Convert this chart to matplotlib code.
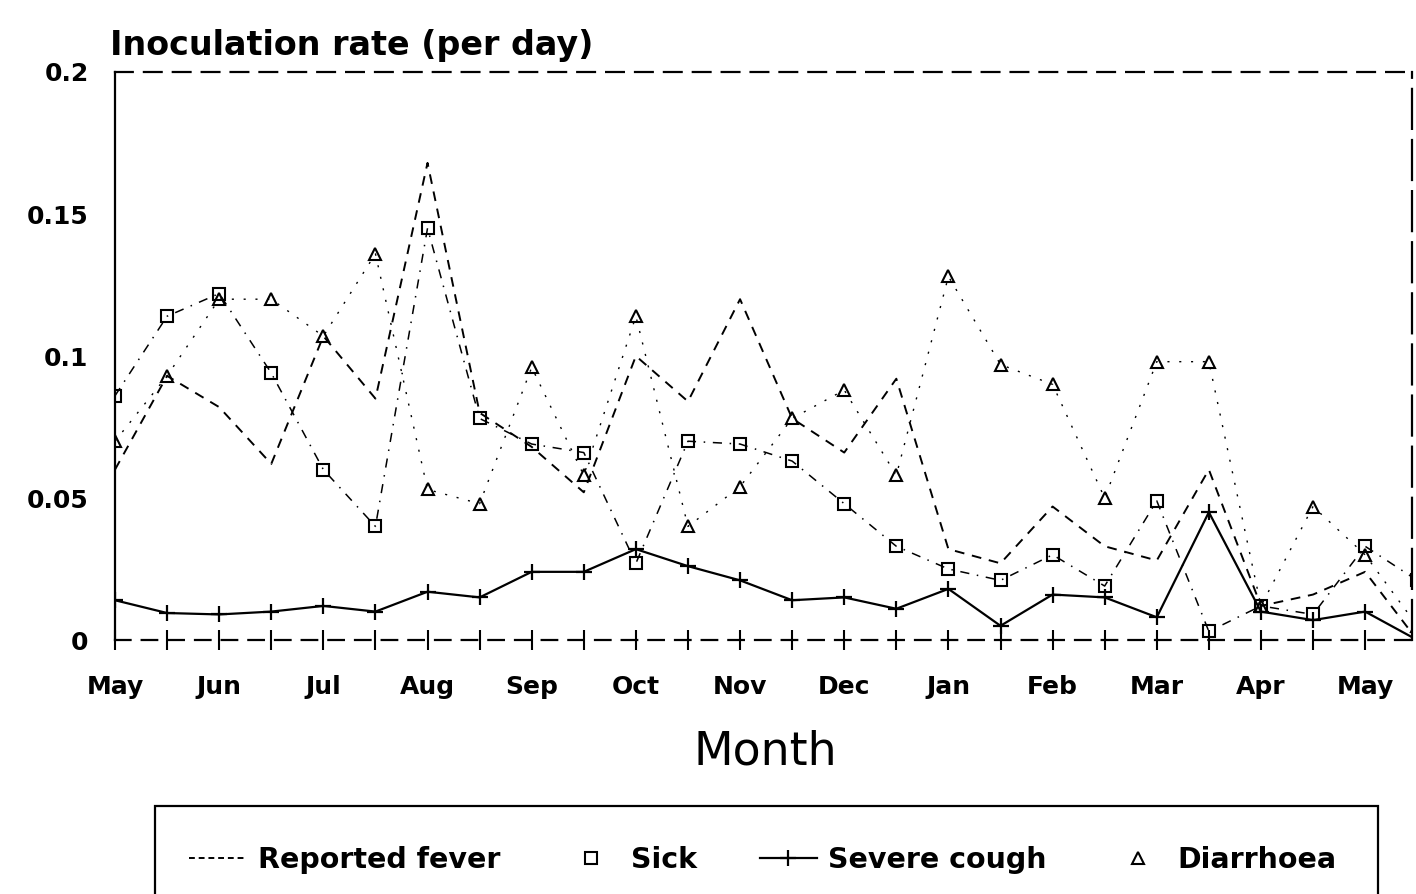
import numpy as np
import matplotlib
matplotlib.use("Agg")
import matplotlib.pyplot as plt
from matplotlib.lines import Line2D
from matplotlib.patches import Rectangle

# ---- data (half-monthly, May .. May) ----
months = ["May", "Jun", "Jul", "Aug", "Sep", "Oct", "Nov", "Dec",
          "Jan", "Feb", "Mar", "Apr", "May"]
t = np.arange(26) * 0.5

fever = [0.060, 0.093, 0.082, 0.062, 0.107, 0.085, 0.168, 0.080, 0.068, 0.052,
         0.100, 0.084, 0.120, 0.078, 0.066, 0.092, 0.032, 0.027, 0.047, 0.033,
         0.028, 0.060, 0.012, 0.016, 0.024, 0.000]
sick = [0.086, 0.114, 0.122, 0.094, 0.060, 0.040, 0.145, 0.078, 0.069, 0.066,
        0.027, 0.070, 0.069, 0.063, 0.048, 0.033, 0.025, 0.021, 0.030, 0.019,
        0.049, 0.003, 0.012, 0.009, 0.033, 0.021]
cough = [0.014, 0.0095, 0.009, 0.010, 0.012, 0.010, 0.017, 0.015, 0.024, 0.024,
         0.032, 0.026, 0.021, 0.014, 0.015, 0.011, 0.018, 0.005, 0.016, 0.015,
         0.008, 0.045, 0.010, 0.007, 0.010, 0.000]
diarrhoea = [0.070, 0.093, 0.120, 0.120, 0.107, 0.136, 0.053, 0.048, 0.096, 0.058,
             0.114, 0.040, 0.054, 0.078, 0.088, 0.058, 0.128, 0.097, 0.090, 0.050,
             0.098, 0.098, 0.012, 0.047, 0.030, 0.005]

W, H = 1416, 894
fig = plt.figure(figsize=(W / 100, H / 100), dpi=100)
ax = fig.add_axes([115 / W, (H - 640) / H, (1412 - 115) / W, (640 - 72) / H])

ax.plot(t, fever, color="black", lw=1.4, ls=(0, (5, 4)))
ax.plot(t, sick, color="black", lw=1.1, ls=(0, (6, 5, 1, 5)), marker="s",
        ms=9, mfc="none", mew=1.5)
ax.plot(t, cough, color="black", lw=1.6, ls="-", marker="+", ms=12, mew=1.6)
ax.plot(t, diarrhoea, color="black", lw=1.0, ls=(0, (1.5, 7)), marker="^",
        ms=9, mfc="none", mew=1.5)

ax.set_xlim(0, 12.45)
ax.set_ylim(0, 0.2)
ax.set_xticks(np.arange(13))
ax.set_xticklabels(months)
ax.set_xticks(np.arange(0.5, 12.5, 1.0), minor=True)
ax.set_yticks([0, 0.05, 0.1, 0.15, 0.2])
ax.set_yticklabels(["0", "0.05", "0.1", "0.15", "0.2"])

for lab in ax.get_xticklabels() + ax.get_yticklabels():
    lab.set_fontfamily("DejaVu Sans")
    lab.set_fontweight("bold")
    lab.set_fontsize(18)

ax.tick_params(axis="x", which="both", direction="inout", length=14, width=1.5,
               pad=18, colors="black")
ax.tick_params(axis="y", length=0, pad=19)

for s in ["left", "right", "bottom", "top"]:
    ax.spines[s].set_linewidth(1.6)
ax.spines["top"].set_linestyle((0, (8, 5)))
ax.spines["bottom"].set_linestyle((0, (7, 5)))
ax.spines["right"].set_linestyle((0, (18, 5)))

fig.text(110 / W, 1 - 55 / H, "Inoculation rate (per day)", ha="left",
         va="baseline", fontsize=24, fontweight="bold", family="DejaVu Sans")
fig.text(765 / W, 1 - 752 / H, "Month", ha="center", va="center",
         fontsize=33, family="DejaVu Sans")

# legend
handles = [
    Line2D([], [], color="black", lw=1.4, ls=(0, (3, 2))),
    Line2D([], [], color="black", ls="none", marker="s", ms=9, mfc="none", mew=1.5),
    Line2D([], [], color="black", lw=1.6, ls="-", marker="+", ms=12, mew=1.6),
    Line2D([], [], color="black", ls="none", marker="^", ms=9, mfc="none", mew=1.5),
]
labels = ["Reported fever", "Sick", "Severe cough", "Diarrhoea"]
fig.legend(handles, labels, loc="center", bbox_to_anchor=(763 / W, 1 - 860 / H),
           ncol=4, frameon=False, handlelength=2.0, handletextpad=0.4,
           columnspacing=2.2, prop=dict(family="DejaVu Sans", weight="bold", size=20.5))
fig.patches.append(Rectangle((155 / W, -0.05), (1378 - 155) / W, (H - 806) / H + 0.05,
                             transform=fig.transFigure, fill=False, lw=1.6,
                             edgecolor="black"))

fig.savefig("out.png", dpi=100, facecolor="white")
